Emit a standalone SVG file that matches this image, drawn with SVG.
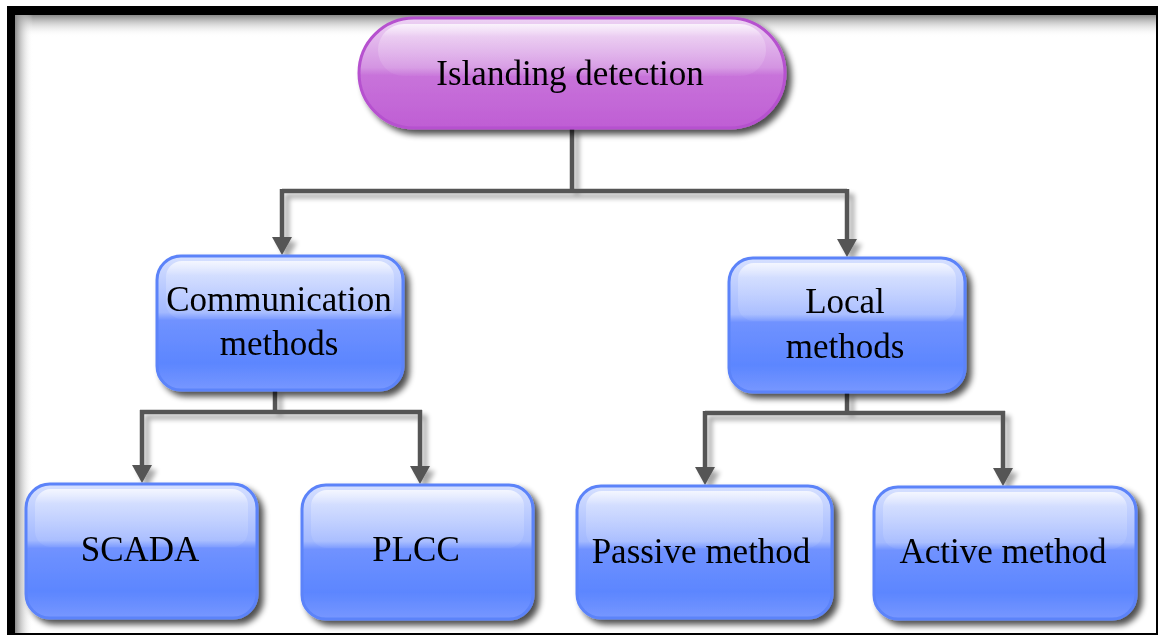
<svg xmlns="http://www.w3.org/2000/svg" width="1160" height="637" viewBox="0 0 1160 637">
  <defs>
    <style>
      .lbl { font-family: "Liberation Serif", "Times New Roman", serif; font-size: 35px; fill: #000; text-anchor: middle; }
      .wire { fill: none; stroke: #555555; stroke-width: 4.5; stroke-linejoin: miter; }
      .head { fill: #555555; }
      .blue { fill: url(#blueFill); stroke: #5B83F9; stroke-width: 3; }
      .pink { fill: url(#pinkFill); stroke: #B651CF; stroke-width: 3; }
      .gloss { fill: url(#glossFill); }
    </style>
    <linearGradient id="blueFill" x1="0" y1="0" x2="0" y2="1">
      <stop offset="0" stop-color="#D6E0FF"/>
      <stop offset="0.42" stop-color="#A3B9FF"/>
      <stop offset="0.48" stop-color="#7092FF"/>
      <stop offset="0.8" stop-color="#5C86FF"/>
      <stop offset="1" stop-color="#7797FF"/>
    </linearGradient>
    <linearGradient id="pinkFill" x1="0" y1="0" x2="0" y2="1">
      <stop offset="0" stop-color="#EDD3F4"/>
      <stop offset="0.45" stop-color="#D494E2"/>
      <stop offset="0.52" stop-color="#C873DA"/>
      <stop offset="1" stop-color="#BF5ED4"/>
    </linearGradient>
    <linearGradient id="glossFill" x1="0" y1="0" x2="0" y2="1">
      <stop offset="0" stop-color="#FFFFFF" stop-opacity="0.75"/>
      <stop offset="0.25" stop-color="#FFFFFF" stop-opacity="0.25"/>
      <stop offset="1" stop-color="#FFFFFF" stop-opacity="0.05"/>
    </linearGradient>
    <linearGradient id="topShade" x1="0" y1="0" x2="0" y2="1">
      <stop offset="0" stop-color="#8A8A8A"/>
      <stop offset="1" stop-color="#FFFFFF" stop-opacity="0"/>
    </linearGradient>
    <linearGradient id="leftShade" x1="0" y1="0" x2="1" y2="0">
      <stop offset="0" stop-color="#8A8A8A"/>
      <stop offset="1" stop-color="#FFFFFF" stop-opacity="0"/>
    </linearGradient>
    <filter id="shadow" x="-10%" y="-10%" width="125%" height="130%">
      <feGaussianBlur in="SourceAlpha" stdDeviation="3"/>
      <feOffset dx="5" dy="5" result="b"/>
      <feComponentTransfer><feFuncA type="linear" slope="0.7"/></feComponentTransfer>
      <feMerge><feMergeNode/><feMergeNode in="SourceGraphic"/></feMerge>
    </filter>
    <filter id="wireShadow" x="-20%" y="-20%" width="150%" height="150%">
      <feGaussianBlur in="SourceAlpha" stdDeviation="2.5"/>
      <feOffset dx="5" dy="5" result="b"/>
      <feComponentTransfer><feFuncA type="linear" slope="0.35"/></feComponentTransfer>
      <feMerge><feMergeNode/><feMergeNode in="SourceGraphic"/></feMerge>
    </filter>
  </defs>

  <!-- page frame -->
  <rect x="0" y="0" width="1160" height="637" fill="#FFFFFF"/>
  <rect x="7" y="6" width="1151" height="629" fill="#000000"/>
  <rect x="15" y="15" width="1141" height="618" fill="#FFFFFF"/>
  <rect x="15" y="15" width="1141" height="22" fill="url(#topShade)"/>
  <rect x="15" y="15" width="18" height="618" fill="url(#leftShade)"/>

  <!-- connectors -->
  <g id="connectors" filter="url(#wireShadow)">
    <path class="wire" d="M572,128 V191"/>
    <path class="wire" d="M282,191 H847"/>
    <path class="wire" d="M282,189 V240"/>
    <path class="wire" d="M847,189 V242"/>
    <polygon class="head" points="272,237 292,237 282,255"/>
    <polygon class="head" points="837,239 857,239 847,257"/>

    <path class="wire" d="M275,390 V412"/>
    <path class="wire" d="M140,412 H422"/>
    <path class="wire" d="M142,410 V468"/>
    <path class="wire" d="M420,410 V468"/>
    <polygon class="head" points="132,465 152,465 142,483"/>
    <polygon class="head" points="410,466 430,466 420,484"/>

    <path class="wire" d="M847,392 V413"/>
    <path class="wire" d="M705,413 H1005"/>
    <path class="wire" d="M705,411 V470"/>
    <path class="wire" d="M1003,411 V470"/>
    <polygon class="head" points="695,467 715,467 705,485"/>
    <polygon class="head" points="993,468 1013,468 1003,486"/>
  </g>

  <!-- root -->
  <g id="islanding-detection" filter="url(#shadow)">
    <rect class="pink" x="359" y="18" width="426" height="110" rx="55"/>
    <rect class="gloss" x="378" y="24" width="388" height="52" rx="26"/>
    <text class="lbl" x="570" y="85">Islanding detection</text>
  </g>

  <!-- second level -->
  <g id="communication-methods" filter="url(#shadow)">
    <rect class="blue" x="157" y="256" width="246" height="134" rx="24"/>
    <rect class="gloss" x="166" y="261" width="228" height="58" rx="16"/>
    <text class="lbl" x="279" y="311">Communication</text>
    <text class="lbl" x="279" y="355">methods</text>
  </g>
  <g id="local-methods" filter="url(#shadow)">
    <rect class="blue" x="729" y="258" width="236" height="134" rx="24"/>
    <rect class="gloss" x="738" y="263" width="218" height="58" rx="16"/>
    <text class="lbl" x="845" y="313">Local</text>
    <text class="lbl" x="845" y="358">methods</text>
  </g>

  <!-- third level -->
  <g id="scada" filter="url(#shadow)">
    <rect class="blue" x="26" y="484" width="231" height="134" rx="24"/>
    <rect class="gloss" x="35" y="489" width="213" height="58" rx="16"/>
    <text class="lbl" x="140" y="561">SCADA</text>
  </g>
  <g id="plcc" filter="url(#shadow)">
    <rect class="blue" x="302" y="485" width="231" height="134" rx="24"/>
    <rect class="gloss" x="311" y="490" width="213" height="58" rx="16"/>
    <text class="lbl" x="416" y="561">PLCC</text>
  </g>
  <g id="passive-method" filter="url(#shadow)">
    <rect class="blue" x="577" y="486" width="255" height="132" rx="24"/>
    <rect class="gloss" x="586" y="491" width="237" height="57" rx="16"/>
    <text class="lbl" x="701" y="563">Passive method</text>
  </g>
  <g id="active-method" filter="url(#shadow)">
    <rect class="blue" x="874" y="487" width="262" height="132" rx="24"/>
    <rect class="gloss" x="883" y="492" width="244" height="57" rx="16"/>
    <text class="lbl" x="1003" y="563">Active method</text>
  </g>
</svg>
